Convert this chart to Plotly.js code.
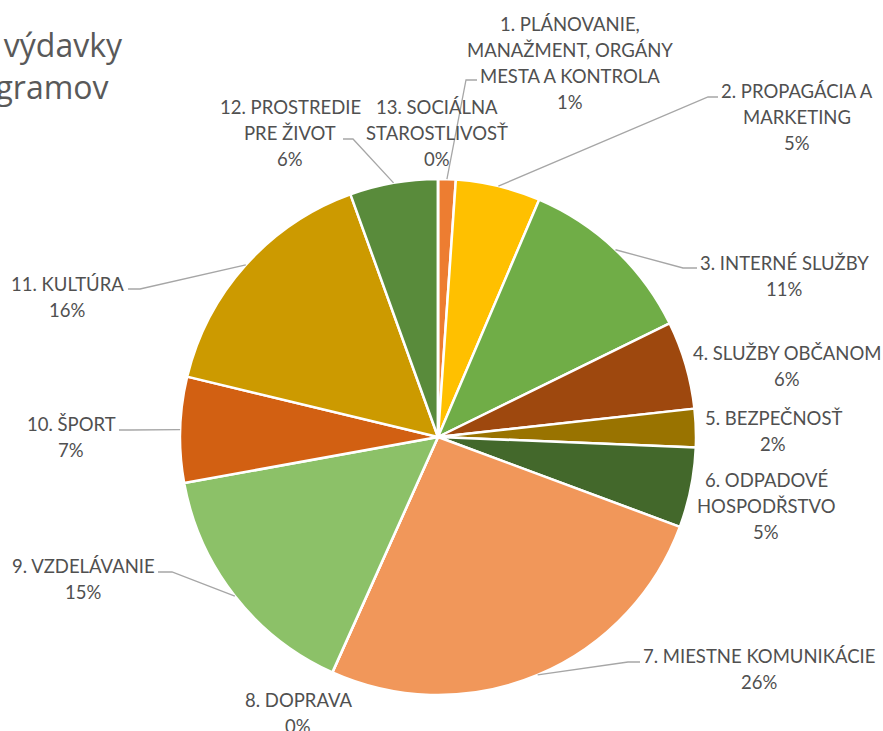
<!DOCTYPE html>
<html>
<head>
<meta charset="utf-8">
<script src="https://cdn.plot.ly/plotly-3.0.1.min.js"></script>
<style>html,body{margin:0;padding:0;background:#fff;overflow:hidden}#chart{width:883px;height:731px}</style>
</head>
<body>
<div id="chart"></div>
<script>
// ---- data ----
const categories = [
  "1. PLÁNOVANIE,\nMANAŽMENT, ORGÁNY\nMESTA A KONTROLA",
  "2. PROPAGÁCIA A\nMARKETING",
  "3. INTERNÉ SLUŽBY",
  "4. SLUŽBY OBČANOM",
  "5. BEZPEČNOSŤ",
  "6. ODPADOVÉ\nHOSPODŘSTVO",
  "7. MIESTNE KOMUNIKÁCIE",
  "8. DOPRAVA",
  "9. VZDELÁVANIE",
  "10. ŠPORT",
  "11. KULTÚRA",
  "12. PROSTREDIE\nPRE ŽIVOT",
  "13. SOCIÁLNA\nSTAROSTLIVOSŤ"
];
const shares = [1.1, 5.3, 11.3, 5.5, 2.4, 5.0, 26.0, 0, 15.4, 6.6, 15.7, 5.5, 0];
const titleLines = ["Kapitálové výdavky", "podľa programov"];

// ---- styles / layout config ----
const colors = ["#ED7D31","#FFC000","#70AD47","#9E480E","#997300","#43682B",
                "#F1975A","#FFCD33","#8CC168","#D26012","#CC9A00","#598B3B","#A5A5A5"];
const W = 883, H = 731;
const pie = {cx: 438, cy: 437, r: 258};
const lineStep = 26;
// label block centres (px)
const labelPos = [[570,63],[797,117],[784,276],[787,366],[773,431],[766,506],
                  [759,669],[298,713],[83,579],[71,437],[67,297],[290,133],[437,133]];
// leader: [elbowX, elbowY, endX, endY] in px, null = no leader
const leaders = [[466,80,477,80],[708,97,718,97],[683,268,697,268],null,null,null,
                 [628,662,640,662],null,[172,572,158,572],[130,430,119,430],
                 [140,289,128,289],[353,139,343,139],null];
const labelFont = {family: "Lato, 'Open Sans', sans-serif", size: 18.5, color: "#505050"};
const titleFont = {family: "'Open Sans', sans-serif", size: 32, color: "#595959"};
const titlePos = [[125,45],[111,87]]; // right end x, centre y

const px = x => x / W;
const py = y => 1 - y / H;

const total = shares.reduce((a,b)=>a+b,0);
const annotations = [];
const shapes = [];
let cum = 0;
shares.forEach((v,i)=>{
  const mid = (cum + v/2) / total * 2 * Math.PI;
  cum += v;
  const lines = categories[i].split("\n").concat([Math.round(v/total*100) + "%"]);
  const [lx, ly] = labelPos[i];
  lines.forEach((t,k)=>{
    annotations.push({x: px(lx), y: py(ly + (k - (lines.length-1)/2)*lineStep),
      xref:"paper", yref:"paper", text:t, showarrow:false,
      xanchor:"center", yanchor:"middle", font: labelFont});
  });
  if (leaders[i]) {
    const sx = pie.cx + pie.r*Math.sin(mid), sy = pie.cy - pie.r*Math.cos(mid);
    const [ex1, ey1, ex2, ey2] = leaders[i];
    shapes.push({type:"path", xref:"paper", yref:"paper",
      path:`M ${px(sx)} ${py(sy)} L ${px(ex1)} ${py(ey1)} L ${px(ex2)} ${py(ey2)}`,
      line:{color:"#A6A6A6", width:1.3}});
  }
});
titleLines.forEach((t,k)=>{
  annotations.push({x: px(titlePos[k][0]), y: py(titlePos[k][1]), xref:"paper", yref:"paper",
    text:t, showarrow:false, xanchor:"right", yanchor:"middle", font:titleFont});
});

const trace = {
  type: "pie",
  labels: categories.map(c=>c.replace(/\n/g," ")),
  values: shares,
  sort: false,
  direction: "clockwise",
  rotation: 0,
  textinfo: "none",
  hoverinfo: "label+percent",
  marker: {colors: colors, line: {color: "#FFFFFF", width: 2.5}},
  domain: {x: [px(pie.cx - pie.r), px(pie.cx + pie.r)], y: [py(pie.cy + pie.r), py(pie.cy - pie.r)]},
  showlegend: false
};

Plotly.newPlot("chart", [trace], {
  width: W, height: H,
  margin: {l:0, r:0, t:0, b:0},
  paper_bgcolor: "#FFFFFF",
  showlegend: false,
  annotations: annotations,
  shapes: shapes
}, {displayModeBar: false, staticPlot: true});
</script>
</body>
</html>
